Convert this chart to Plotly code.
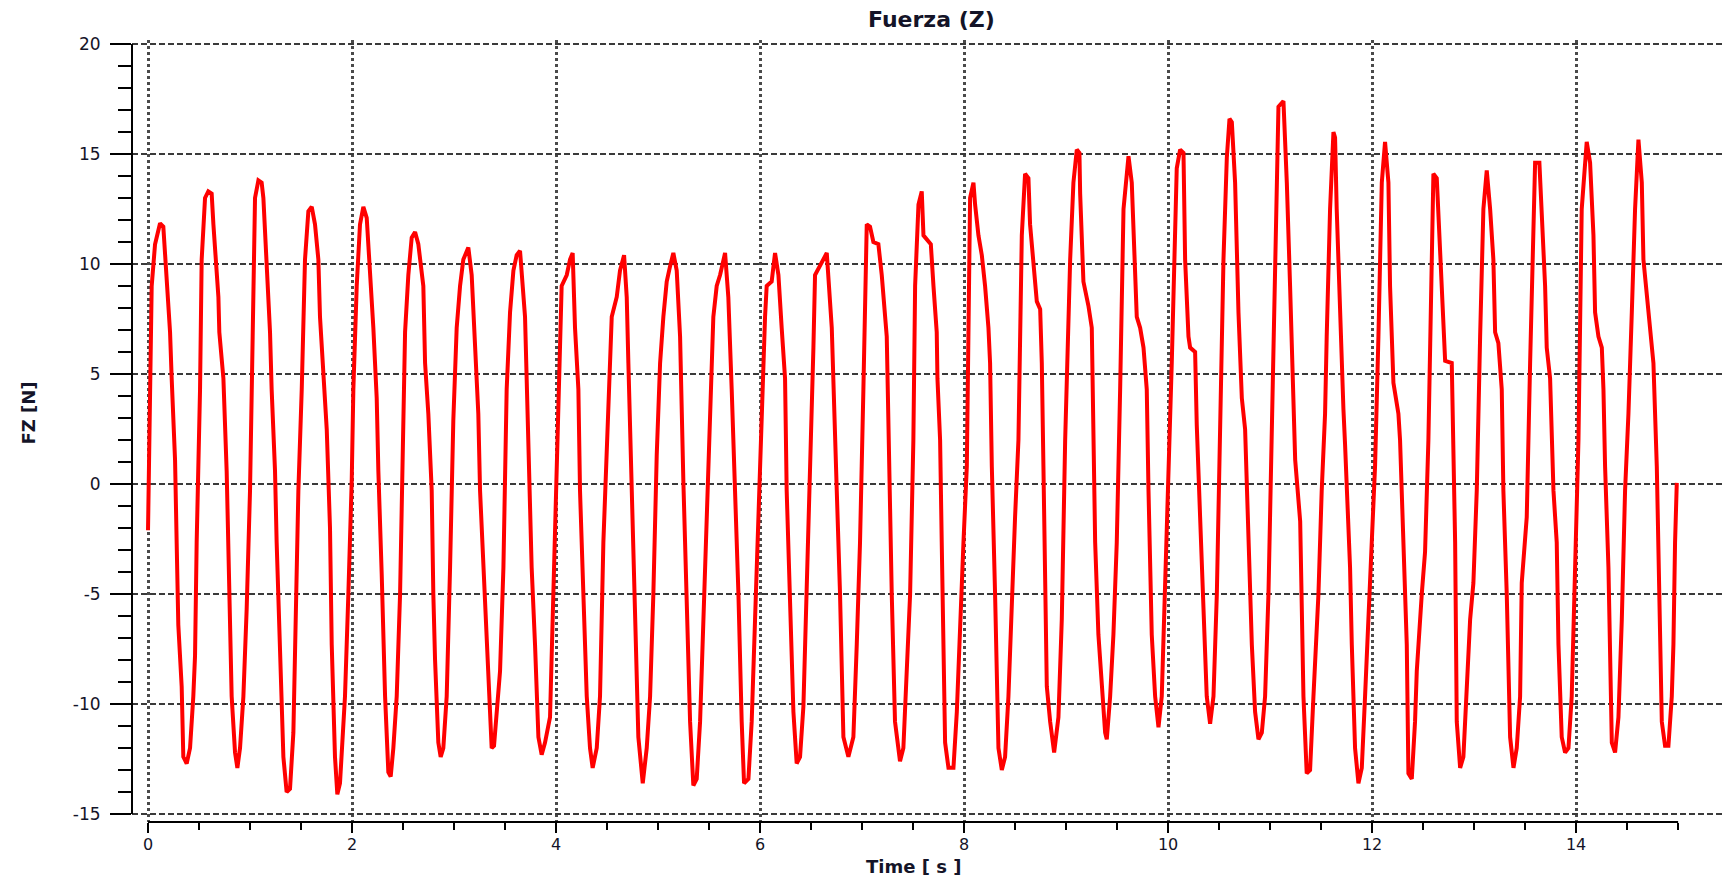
import plotly.graph_objects as go

# ---- data ----
TIME = [
    0.000, 0.020, 0.036, 0.069, 0.118, 0.150, 0.167, 0.216, 0.232, 0.265, 0.281, 0.297, 0.330, 0.346, 0.379, 0.412,
    0.444, 0.461, 0.477, 0.510, 0.526, 0.559, 0.591, 0.624, 0.641, 0.690, 0.699, 0.739, 0.771, 0.788, 0.820, 0.853,
    0.876, 0.902, 0.935, 0.967, 1.000, 1.026, 1.049, 1.082, 1.114, 1.131, 1.163, 1.196, 1.212, 1.245, 1.261, 1.294,
    1.327, 1.359, 1.392, 1.425, 1.441, 1.474, 1.507, 1.539, 1.572, 1.605, 1.637, 1.670, 1.686, 1.719, 1.752, 1.784,
    1.801, 1.833, 1.856, 1.882, 1.931, 1.964, 1.997, 2.013, 2.046, 2.078, 2.111, 2.144, 2.176, 2.209, 2.242, 2.258,
    2.291, 2.324, 2.356, 2.379, 2.405, 2.438, 2.471, 2.503, 2.520, 2.552, 2.585, 2.618, 2.650, 2.699, 2.716, 2.748,
    2.781, 2.797, 2.814, 2.846, 2.869, 2.895, 2.928, 2.961, 2.993, 3.026, 3.059, 3.091, 3.140, 3.173, 3.206, 3.238,
    3.255, 3.288, 3.320, 3.353, 3.369, 3.392, 3.418, 3.451, 3.484, 3.516, 3.549, 3.582, 3.614, 3.647,
    3.696, 3.729, 3.761, 3.794, 3.827, 3.859, 3.892, 3.941, 3.974, 4.006, 4.039, 4.055, 4.105, 4.137, 4.163, 4.186,
    4.219, 4.235, 4.268, 4.301, 4.333, 4.359, 4.399, 4.431, 4.464, 4.497, 4.523, 4.546, 4.595, 4.627, 4.667, 4.693,
    4.709, 4.742, 4.774, 4.807, 4.850, 4.889, 4.922, 4.954, 4.987, 5.020, 5.052, 5.085, 5.118, 5.150, 5.183, 5.216,
    5.248, 5.281, 5.314, 5.346, 5.379, 5.412, 5.444, 5.477, 5.510, 5.542, 5.575, 5.608, 5.657, 5.689, 5.722, 5.755,
    5.788, 5.820, 5.843, 5.886, 5.918, 5.951, 5.984, 6.016, 6.049, 6.065, 6.114, 6.147, 6.180, 6.212, 6.245, 6.261,
    6.294, 6.327, 6.359, 6.392, 6.425, 6.457, 6.490, 6.523, 6.539, 6.588, 6.654, 6.703, 6.719, 6.752, 6.784, 6.817,
    6.866, 6.915, 6.948, 6.980, 7.013, 7.046, 7.078, 7.111, 7.160, 7.193, 7.242, 7.258, 7.291, 7.323, 7.372, 7.405,
    7.438, 7.471, 7.503,
    7.520, 7.553, 7.585, 7.602, 7.634, 7.674, 7.700, 7.732, 7.739, 7.765, 7.781, 7.798, 7.814, 7.847, 7.896, 7.929,
    7.961, 7.994, 8.027, 8.043, 8.059, 8.092, 8.108, 8.141, 8.174, 8.206, 8.239, 8.255, 8.272, 8.304, 8.337, 8.370,
    8.402, 8.435, 8.468, 8.500, 8.533, 8.566, 8.598, 8.631, 8.647, 8.680, 8.713, 8.746, 8.762, 8.778, 8.795, 8.811,
    8.844, 8.883, 8.925, 8.958, 8.991, 9.040, 9.072, 9.105, 9.131, 9.138, 9.170, 9.219, 9.252, 9.268, 9.285, 9.317,
    9.350, 9.383, 9.399, 9.432, 9.464, 9.497, 9.530, 9.563, 9.612, 9.644, 9.693, 9.726, 9.759, 9.791, 9.808, 9.840,
    9.873, 9.906, 9.938, 9.971, 10.004, 10.036, 10.085, 10.118, 10.151, 10.167, 10.200, 10.216, 10.265, 10.281,
    10.314, 10.347, 10.379, 10.412, 10.445, 10.478, 10.510, 10.543, 10.576, 10.602, 10.625, 10.657, 10.690, 10.723,
    10.755, 10.788, 10.821, 10.853, 10.886, 10.919, 10.951, 10.984, 11.017, 11.049, 11.082, 11.131, 11.164, 11.196,
    11.246, 11.295,
    11.327, 11.359, 11.392, 11.425, 11.474, 11.506, 11.539, 11.555, 11.588, 11.621, 11.637, 11.653, 11.686, 11.719,
    11.735, 11.752, 11.784, 11.801, 11.833, 11.866, 11.899, 11.931, 11.964, 11.997, 12.029, 12.062, 12.095, 12.127,
    12.160, 12.176, 12.209, 12.258, 12.274, 12.307, 12.340, 12.356, 12.389, 12.421, 12.438, 12.487, 12.519, 12.552,
    12.585, 12.601, 12.634, 12.667, 12.699, 12.716, 12.781, 12.797, 12.814, 12.830, 12.863, 12.895, 12.928, 12.961,
    12.993, 13.026, 13.059, 13.091, 13.124, 13.157, 13.189, 13.206, 13.238, 13.271, 13.287, 13.320, 13.353, 13.386,
    13.418, 13.451, 13.467, 13.516, 13.549, 13.582, 13.598, 13.640, 13.663, 13.696, 13.712, 13.745, 13.778, 13.810,
    13.827, 13.859, 13.892, 13.925, 13.957, 13.990, 14.023, 14.055, 14.104, 14.137, 14.170, 14.186, 14.219, 14.252,
    14.268, 14.284, 14.317, 14.350, 14.382, 14.415, 14.448, 14.480, 14.513, 14.546, 14.578, 14.611, 14.644, 14.660,
    14.709, 14.725, 14.758, 14.791, 14.807, 14.823, 14.840, 14.872, 14.905, 14.938, 14.954, 14.970, 14.987,
]

FZ = [
    -2.1, 5.0, 9.0, 10.9, 11.85, 11.7, 10.4, 6.9, 4.8, 1.1, -2.7, -6.4, -9.2, -12.4, -12.7, -12.0,
    -9.65, -7.8, -2.65, 4.3, 10.2, 13.0, 13.3, 13.2, 11.8, 8.5, 6.9, 4.8, 0.6, -3.8, -9.65, -12.2,
    -12.9, -12.0, -9.65, -5.7, -0.3, 6.7, 13.0, 13.8, 13.7, 13.0, 10.2, 6.9, 4.3, 0.6, -2.65, -7.3,
    -12.4, -14.0, -13.85, -11.3, -7.3, -0.3, 4.3, 10.2, 12.4, 12.6, 11.8, 10.2, 7.6, 4.8, 2.5, -2.0,
    -7.3, -12.4, -14.1, -13.6, -9.65, -5.0, 0.14, 4.3, 9.0, 11.8, 12.6, 12.1, 9.7, 7.1, 3.9, 0.6,
    -4.1, -9.65, -13.1, -13.3, -12.0, -9.65, -5.0, 2.0, 6.9, 9.5, 11.2, 11.45, 10.9, 9.0, 5.5, 3.2,
    -0.3, -5.0, -8.0, -11.75, -12.4, -12.0, -9.65, -3.8, 2.9, 7.1, 9.0, 10.2, 10.75, 9.5, 6.2, 3.2,
    -0.3, -3.8, -7.3, -10.6, -12.0, -11.9, -10.6, -8.5, -3.8, 4.3, 7.8, 9.7, 10.4, 10.6,
    7.6, 1.5, -3.8, -7.3, -11.5, -12.3, -11.75, -10.6, -5.0, 0.8, 6.7, 9.0, 9.5, 10.2, 10.5, 7.1,
    4.3, -0.3, -5.0, -9.65, -12.0, -12.9, -12.0, -9.65, -2.65, 2.0, 4.8, 7.6, 8.5, 9.7, 10.4, 8.5,
    5.5, 0.14, -6.15, -11.5, -13.6, -12.0, -9.65, -5.0, 1.3, 5.5, 7.6, 9.2, 9.9, 10.5, 9.7, 6.7,
    0.14, -5.0, -10.8, -13.7, -13.4, -10.8, -6.15, -1.5, 4.3, 7.6, 9.0, 9.5, 10.5, 8.5, 4.3, 0.14,
    -5.0, -10.8, -13.6, -13.4, -10.8, -6.15, -1.5, 4.3, 7.6, 9.0, 9.2, 10.5, 9.5, 7.1, 4.8, -0.3,
    -5.0, -10.35, -12.7, -12.4, -10.1, -5.0, -0.3, 6.2, 9.5, 9.9, 10.5, 7.1, 4.3, -0.3, -5.0, -11.5,
    -12.4, -11.5, -7.3, -2.65, 4.3, 11.8, 11.7, 11.0, 10.9, 9.5, 6.7, 2.0, -5.0, -10.8, -12.6, -12.0,
    -8.5, -5.0, 2.0,
    9.0, 12.7, 13.3, 11.3, 11.1, 10.9, 9.0, 6.9, 4.8, 2.0, -2.65, -7.3, -11.75, -12.9, -12.9, -10.35,
    -6.15, -2.65, 0.8, 9.0, 13.0, 13.7, 12.7, 11.3, 10.4, 9.0, 7.1, 5.5, 0.8, -5.0, -12.0, -13.0,
    -12.4, -9.65, -5.0, -1.5, 2.0, 11.3, 14.1, 13.9, 11.8, 10.2, 8.3, 7.95, 5.5, 0.8, -3.8, -9.2,
    -10.8, -12.2, -10.6, -6.15, 2.0, 10.2, 13.7, 15.2, 15.05, 13.2, 9.2, 8.1, 7.1, 2.0, -2.65, -6.85,
    -8.95, -11.3, -11.6, -9.65, -6.85, -2.65, 4.3, 12.5, 14.9, 13.7, 7.6, 7.1, 6.2, 4.3, -0.3, -6.85,
    -9.65, -11.05, -9.65, -5.0, -0.3, 5.5, 14.35, 15.2, 15.05, 10.2, 6.7, 6.2, 6.0, 2.7,
    -1.5, -6.15, -9.65, -10.9, -9.65, -5.0, 2.0, 10.2, 14.85, 16.6, 16.45, 13.7, 7.8, 3.9,
    2.5, -2.65, -7.3, -10.35, -11.6, -11.3, -9.65, -5.0, 2.0, 10.2, 17.15, 17.4, 13.7, 9.0,
    1.1, -1.7,
    -9.65, -13.15, -13.0, -9.65, -5.0, -0.3, 3.2, 6.7, 12.5, 16.0, 15.75, 12.5, 7.6, 3.4,
    1.8, -0.3, -3.8, -7.3, -12.0, -13.6, -12.9, -9.65, -6.15, -2.65, 0.8, 6.7, 13.7, 15.55,
    13.7, 9.0, 4.6, 3.2, 2.0, -2.65, -7.3, -13.15, -13.4, -10.8, -8.5, -5.0, -3.1, 2.0,
    9.0, 14.1, 13.9, 10.9, 7.8, 5.6, 5.5, 2.0, -2.65, -10.8, -12.9, -12.4, -9.65, -6.15,
    -4.5, -0.3, 6.7, 12.5, 14.25, 12.5, 10.2, 6.9, 6.4, 4.3, -0.3, -5.0, -11.5, -12.9,
    -12.0, -9.65, -4.5, -1.5, 5.5, 12.5, 14.6, 14.6, 12.5, 9.0, 6.2, 4.8, -0.3, -2.65,
    -7.3, -11.5, -12.2, -12.0, -9.65, -3.8, 2.0, 12.5, 15.55, 14.6, 11.3, 7.8, 6.7, 6.2,
    4.3, 0.8, -3.8, -11.75, -12.2, -10.6, -6.15, -0.3, 3.2, 7.8, 12.5, 15.65, 13.7, 10.2,
    7.8, 6.7, 5.5, 0.8, -2.65, -7.3, -10.8, -11.9, -11.9, -9.65, -7.3, -2.65, 0.05,
]

X_MAJOR_TICKS = [0, 2, 4, 6, 8, 10, 12, 14]
Y_MAJOR_TICKS = [-15, -10, -5, 0, 5, 10, 15, 20]

TITLE = "Fuerza (Z)"
X_TITLE = "Time [ s ]"
Y_TITLE = "FZ [N]"

FONT = "DejaVu Sans"
TXT = "#141428"

fig = go.Figure(
    go.Scatter(
        x=TIME, y=FZ, mode="lines",
        line=dict(color="#ff0000", width=4),
        showlegend=False, hoverinfo="x+y",
    )
)

fig.update_layout(
    width=1723, height=878,
    margin=dict(l=132, r=0, t=40, b=56),
    paper_bgcolor="white", plot_bgcolor="white",
    font=dict(family=FONT, color=TXT),
    xaxis=dict(
        range=[-0.157, 15.44],
        tickmode="array", tickvals=X_MAJOR_TICKS, ticktext=[str(v) for v in X_MAJOR_TICKS],
        ticks="outside", ticklen=10, tickwidth=2, tickcolor="black",
        tickfont=dict(family=FONT, size=16, color=TXT),
        ticklabelstandoff=-2,
        minor=dict(tick0=0, dtick=0.5, ticks="outside", ticklen=7, tickwidth=2,
                   tickcolor="black", showgrid=False),
        showgrid=True, gridcolor="#4a4a4a", gridwidth=2.5, griddash="dot",
        zeroline=False, showline=False,
    ),
    yaxis=dict(
        range=[-15.36, 20.18],
        tickmode="array", tickvals=Y_MAJOR_TICKS, ticktext=[str(v) for v in Y_MAJOR_TICKS],
        ticks="outside", ticklen=21, tickwidth=2, tickcolor="black",
        tickfont=dict(family=FONT, size=17, color=TXT),
        ticklabelstandoff=6,
        minor=dict(tick0=0, dtick=1, ticks="outside", ticklen=13, tickwidth=2,
                   tickcolor="black", showgrid=False),
        showgrid=True, gridcolor="#3a3a3a", gridwidth=1.5, griddash="6px,3px",
        zeroline=False, showline=False,
    ),
    shapes=[
        dict(type="line", xref="paper", yref="y", x0=0, x1=0, y0=-15, y1=20,
             line=dict(color="black", width=2), layer="above"),
        dict(type="line", xref="x", yref="paper", x0=0, x1=15, y0=0, y1=0,
             line=dict(color="black", width=2), layer="above"),
    ],
    annotations=[
        dict(text=f"<b>{TITLE}</b>", xref="x", yref="paper", x=7.68, y=1,
             yshift=21, xanchor="center", yanchor="middle", showarrow=False,
             font=dict(family=FONT, size=22, color=TXT)),
        dict(text=f"<b>{X_TITLE}</b>", xref="x", yref="paper", x=7.5, y=0,
             yshift=-44, xanchor="center", yanchor="middle", showarrow=False,
             font=dict(family=FONT, size=18, color=TXT)),
        dict(text=f"<b>{Y_TITLE}</b>", xref="paper", yref="y", x=0, y=3.2,
             xshift=-103, xanchor="center", yanchor="middle", textangle=-90,
             showarrow=False, font=dict(family=FONT, size=18, color=TXT)),
    ],
)

fig.write_html("out.html")
